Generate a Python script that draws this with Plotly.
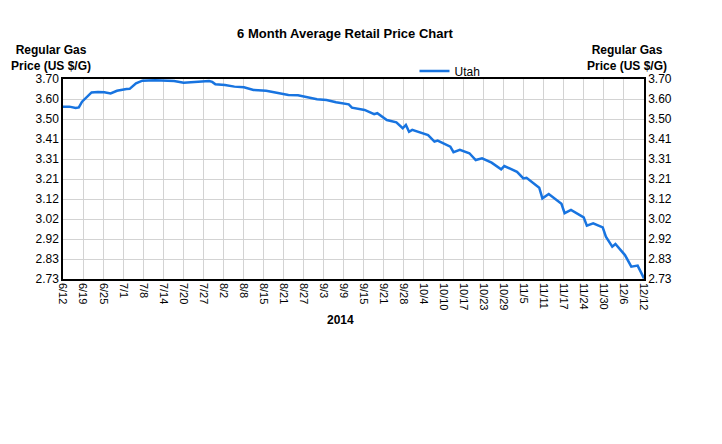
import pandas as pd
import plotly.graph_objects as go

dates = ["2014-06-12", "2014-06-14", "2014-06-16", "2014-06-17", "2014-06-18", "2014-06-20",
         "2014-06-21", "2014-06-23", "2014-06-25", "2014-06-27", "2014-06-29", "2014-07-02",
         "2014-07-03", "2014-07-05", "2014-07-07", "2014-07-11", "2014-07-13", "2014-07-17",
         "2014-07-20", "2014-07-24", "2014-07-28", "2014-07-29", "2014-07-30", "2014-08-02",
         "2014-08-05", "2014-08-08", "2014-08-11", "2014-08-15", "2014-08-18", "2014-08-22",
         "2014-08-25", "2014-08-28", "2014-08-31", "2014-09-03", "2014-09-06", "2014-09-10",
         "2014-09-11", "2014-09-15", "2014-09-18", "2014-09-19", "2014-09-22", "2014-09-25",
         "2014-09-27", "2014-09-28", "2014-09-29", "2014-09-30", "2014-10-05", "2014-10-07",
         "2014-10-08", "2014-10-12", "2014-10-13", "2014-10-15", "2014-10-18", "2014-10-20",
         "2014-10-22", "2014-10-25", "2014-10-28", "2014-10-29", "2014-11-02", "2014-11-04",
         "2014-11-05", "2014-11-09", "2014-11-10", "2014-11-12", "2014-11-16", "2014-11-17",
         "2014-11-19", "2014-11-23", "2014-11-24", "2014-11-26", "2014-11-29", "2014-11-30",
         "2014-12-02", "2014-12-03", "2014-12-06", "2014-12-08", "2014-12-10", "2014-12-12"]

utah_prices = [3.566, 3.566, 3.560, 3.562, 3.590, 3.622,
               3.635, 3.637, 3.636, 3.630, 3.643, 3.651,
               3.652, 3.679, 3.692, 3.694, 3.692, 3.690,
               3.682, 3.685, 3.690, 3.686, 3.674, 3.671,
               3.663, 3.660, 3.647, 3.643, 3.634, 3.622,
               3.621, 3.611, 3.602, 3.598, 3.587, 3.577,
               3.561, 3.550, 3.529, 3.534, 3.501, 3.490,
               3.461, 3.477, 3.444, 3.453, 3.428, 3.396,
               3.401, 3.372, 3.345, 3.356, 3.340, 3.307,
               3.315, 3.294, 3.262, 3.278, 3.250, 3.218,
               3.221, 3.173, 3.121, 3.142, 3.095, 3.049,
               3.065, 3.029, 2.989, 3.000, 2.980, 2.935,
               2.887, 2.900, 2.846, 2.790, 2.795, 2.733]

x_tick_labels = ["6/12", "6/19", "6/25", "7/1", "7/8", "7/14", "7/20", "7/27", "8/2", "8/8",
                 "8/15", "8/21", "8/27", "9/3", "9/9", "9/15", "9/21", "9/28", "10/4", "10/10",
                 "10/17", "10/23", "10/29", "11/5", "11/11", "11/17", "11/24", "11/30", "12/6", "12/12"]

y_tick_labels = ["2.73", "2.83", "2.92", "3.02", "3.12", "3.21", "3.31", "3.41", "3.50", "3.60", "3.70"]

y_min, y_max = 2.73, 3.70

x = pd.to_datetime(dates)
start, end = x[0], x[-1]
n = len(x_tick_labels)
span = end - start
x_tick_vals = [start + span * k / (n - 1) for k in range(n)]
ny = len(y_tick_labels)
y_tick_vals = [y_min + (y_max - y_min) * k / (ny - 1) for k in range(ny)]

FONT = "Liberation Sans, Arial, sans-serif"
BLUE = "#1874e0"
GRID = "#d3d3d3"

fig = go.Figure()
fig.add_trace(go.Scatter(x=x, y=utah_prices, mode="lines", name="Utah",
                         line=dict(color=BLUE, width=2.5), yaxis="y"))
fig.add_trace(go.Scatter(x=x, y=utah_prices, mode="lines", name="Utah",
                         line=dict(color=BLUE, width=0), opacity=0, showlegend=False,
                         hoverinfo="skip", yaxis="y2"))

axis_common = dict(range=[y_min, y_max], tickvals=y_tick_vals, ticktext=y_tick_labels,
                   tickfont=dict(family=FONT, size=12, color="#000"),
                   showline=True, linecolor="#000", linewidth=1.5)

fig.update_layout(
    width=722, height=444,
    paper_bgcolor="white", plot_bgcolor="white",
    margin=dict(l=55, r=86, t=71, b=173),
    title=dict(text="<b>6 Month Average Retail Price Chart</b>", x=337 / 722, xanchor="center",
               y=(444 - 25) / 444, yanchor="middle", yref="container",
               font=dict(family=FONT, size=13, color="#000")),
    xaxis=dict(range=[start, end], tickvals=x_tick_vals, ticktext=x_tick_labels, tickangle=90,
               tickfont=dict(family=FONT, size=11, color="#000"),
               showgrid=True, gridcolor=GRID, gridwidth=1,
               showline=True, linecolor="#000", linewidth=1.5, mirror=True, ticks=""),
    yaxis=dict(showgrid=True, gridcolor=GRID, gridwidth=1, mirror=True, ticks="", **axis_common),
    yaxis2=dict(overlaying="y", side="right", showgrid=False, ticks="", **axis_common),
    showlegend=True,
    legend=dict(orientation="h", x=0.605, xanchor="left", y=1.04, yanchor="middle",
                font=dict(family=FONT, size=12, color="#000"), bgcolor="rgba(0,0,0,0)",
                itemwidth=30),
    annotations=[
        dict(text="<b>Regular Gas<br>Price (US $/G)</b>", xref="paper", yref="paper",
             x=(51 - 63) / 581, y=(279 - 58) / 200, xanchor="center", yanchor="middle",
             showarrow=False, font=dict(family=FONT, size=12, color="#000")),
        dict(text="<b>Regular Gas<br>Price (US $/G)</b>", xref="paper", yref="paper",
             x=(627 - 63) / 581, y=(279 - 58) / 200, xanchor="center", yanchor="middle",
             showarrow=False, font=dict(family=FONT, size=12, color="#000")),
        dict(text="<b>2014</b>", xref="paper", yref="paper",
             x=(340 - 63) / 581, y=(279 - 320) / 200, xanchor="center", yanchor="middle",
             showarrow=False, font=dict(family=FONT, size=12, color="#000")),
    ],
)

fig.write_html("out.html")
